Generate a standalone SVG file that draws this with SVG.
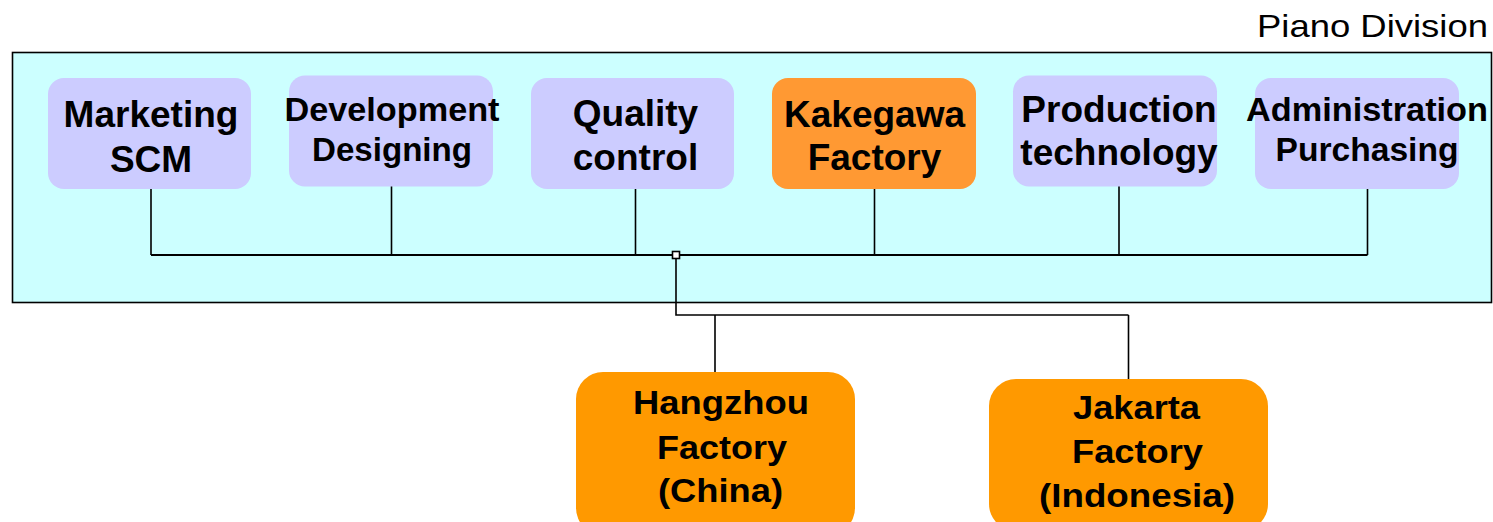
<svg xmlns="http://www.w3.org/2000/svg" width="1493" height="522" viewBox="0 0 1493 522">
  <style>
    .lbl { font-family: "Liberation Sans", Arial, sans-serif; font-weight: bold; font-size: 37px; fill: #000; text-anchor: middle; }
    .mid { font-size: 33.5px; }
    .low { font-size: 33.5px; }
    .dept { fill: #CCCCFF; }
    .home { fill: #FF9933; }
    .plant { fill: #FF9900; }
    .wire { fill: none; stroke: #000; stroke-width: 1.6; }
  </style>

  <!-- division frame -->
  <g id="division">
    <rect x="12.5" y="52.5" width="1479" height="250" fill="#CCFFFF" stroke="#000" stroke-width="1.6"/>
    <text x="1488" y="37" font-family="Liberation Sans, Arial, sans-serif" font-size="32" text-anchor="end" textLength="231" lengthAdjust="spacingAndGlyphs">Piano Division</text>
  </g>

  <!-- connectors -->
  <g id="connectors" class="wire">
    <path d="M151 189V255M391.5 186V255M635.5 189V255M874.5 189V255M1119 186V255M1367.5 189V255"/>
    <path d="M151 255H1367.5" stroke-width="2.2"/>
    <path d="M676 255V315H1128.5M715 315V372M1128.5 315V379"/>
    <rect x="672.5" y="251.5" width="7" height="7" fill="#fff" stroke-width="1.6"/>
  </g>

  <g id="marketing">
    <rect class="dept" x="48" y="78" width="203" height="111" rx="16"/>
    <text class="lbl" x="151" y="127">Marketing</text>
    <text class="lbl" x="151" y="172">SCM</text>
  </g>

  <g id="development">
    <rect class="dept" x="289" y="75.5" width="204" height="111" rx="16"/>
    <text class="lbl mid" x="392" y="121" textLength="215" lengthAdjust="spacingAndGlyphs">Development</text>
    <text class="lbl mid" x="392" y="161" textLength="160" lengthAdjust="spacingAndGlyphs">Designing</text>
  </g>

  <g id="quality">
    <rect class="dept" x="531" y="78" width="203" height="111" rx="16"/>
    <text class="lbl" x="635.5" y="126">Quality</text>
    <text class="lbl" x="635.5" y="170">control</text>
  </g>

  <g id="kakegawa">
    <rect class="home" x="772" y="78" width="204" height="111" rx="16"/>
    <text class="lbl" x="874.5" y="127">Kakegawa</text>
    <text class="lbl" x="874.5" y="170">Factory</text>
  </g>

  <g id="production">
    <rect class="dept" x="1013" y="75.5" width="204" height="111" rx="16"/>
    <text class="lbl" x="1119" y="122">Production</text>
    <text class="lbl" x="1119" y="165">technology</text>
  </g>

  <g id="administration">
    <rect class="dept" x="1255" y="78" width="204" height="111" rx="16"/>
    <text class="lbl mid" x="1367" y="121" textLength="242" lengthAdjust="spacingAndGlyphs">Administration</text>
    <text class="lbl mid" x="1367" y="161" textLength="183" lengthAdjust="spacingAndGlyphs">Purchasing</text>
  </g>

  <g id="hangzhou">
    <rect class="plant" x="576" y="372" width="279" height="163" rx="27"/>
    <text class="lbl low" x="721" y="414" textLength="176" lengthAdjust="spacingAndGlyphs">Hangzhou</text>
    <text class="lbl low" x="722" y="459" textLength="130" lengthAdjust="spacingAndGlyphs">Factory</text>
    <text class="lbl low" x="720.5" y="502" textLength="125" lengthAdjust="spacingAndGlyphs">(China)</text>
  </g>

  <g id="jakarta">
    <rect class="plant" x="989" y="379" width="279" height="152" rx="27"/>
    <text class="lbl low" x="1136.5" y="419" textLength="127" lengthAdjust="spacingAndGlyphs">Jakarta</text>
    <text class="lbl low" x="1137.5" y="463" textLength="131" lengthAdjust="spacingAndGlyphs">Factory</text>
    <text class="lbl low" x="1137" y="507" textLength="196" lengthAdjust="spacingAndGlyphs">(Indonesia)</text>
  </g>
</svg>
